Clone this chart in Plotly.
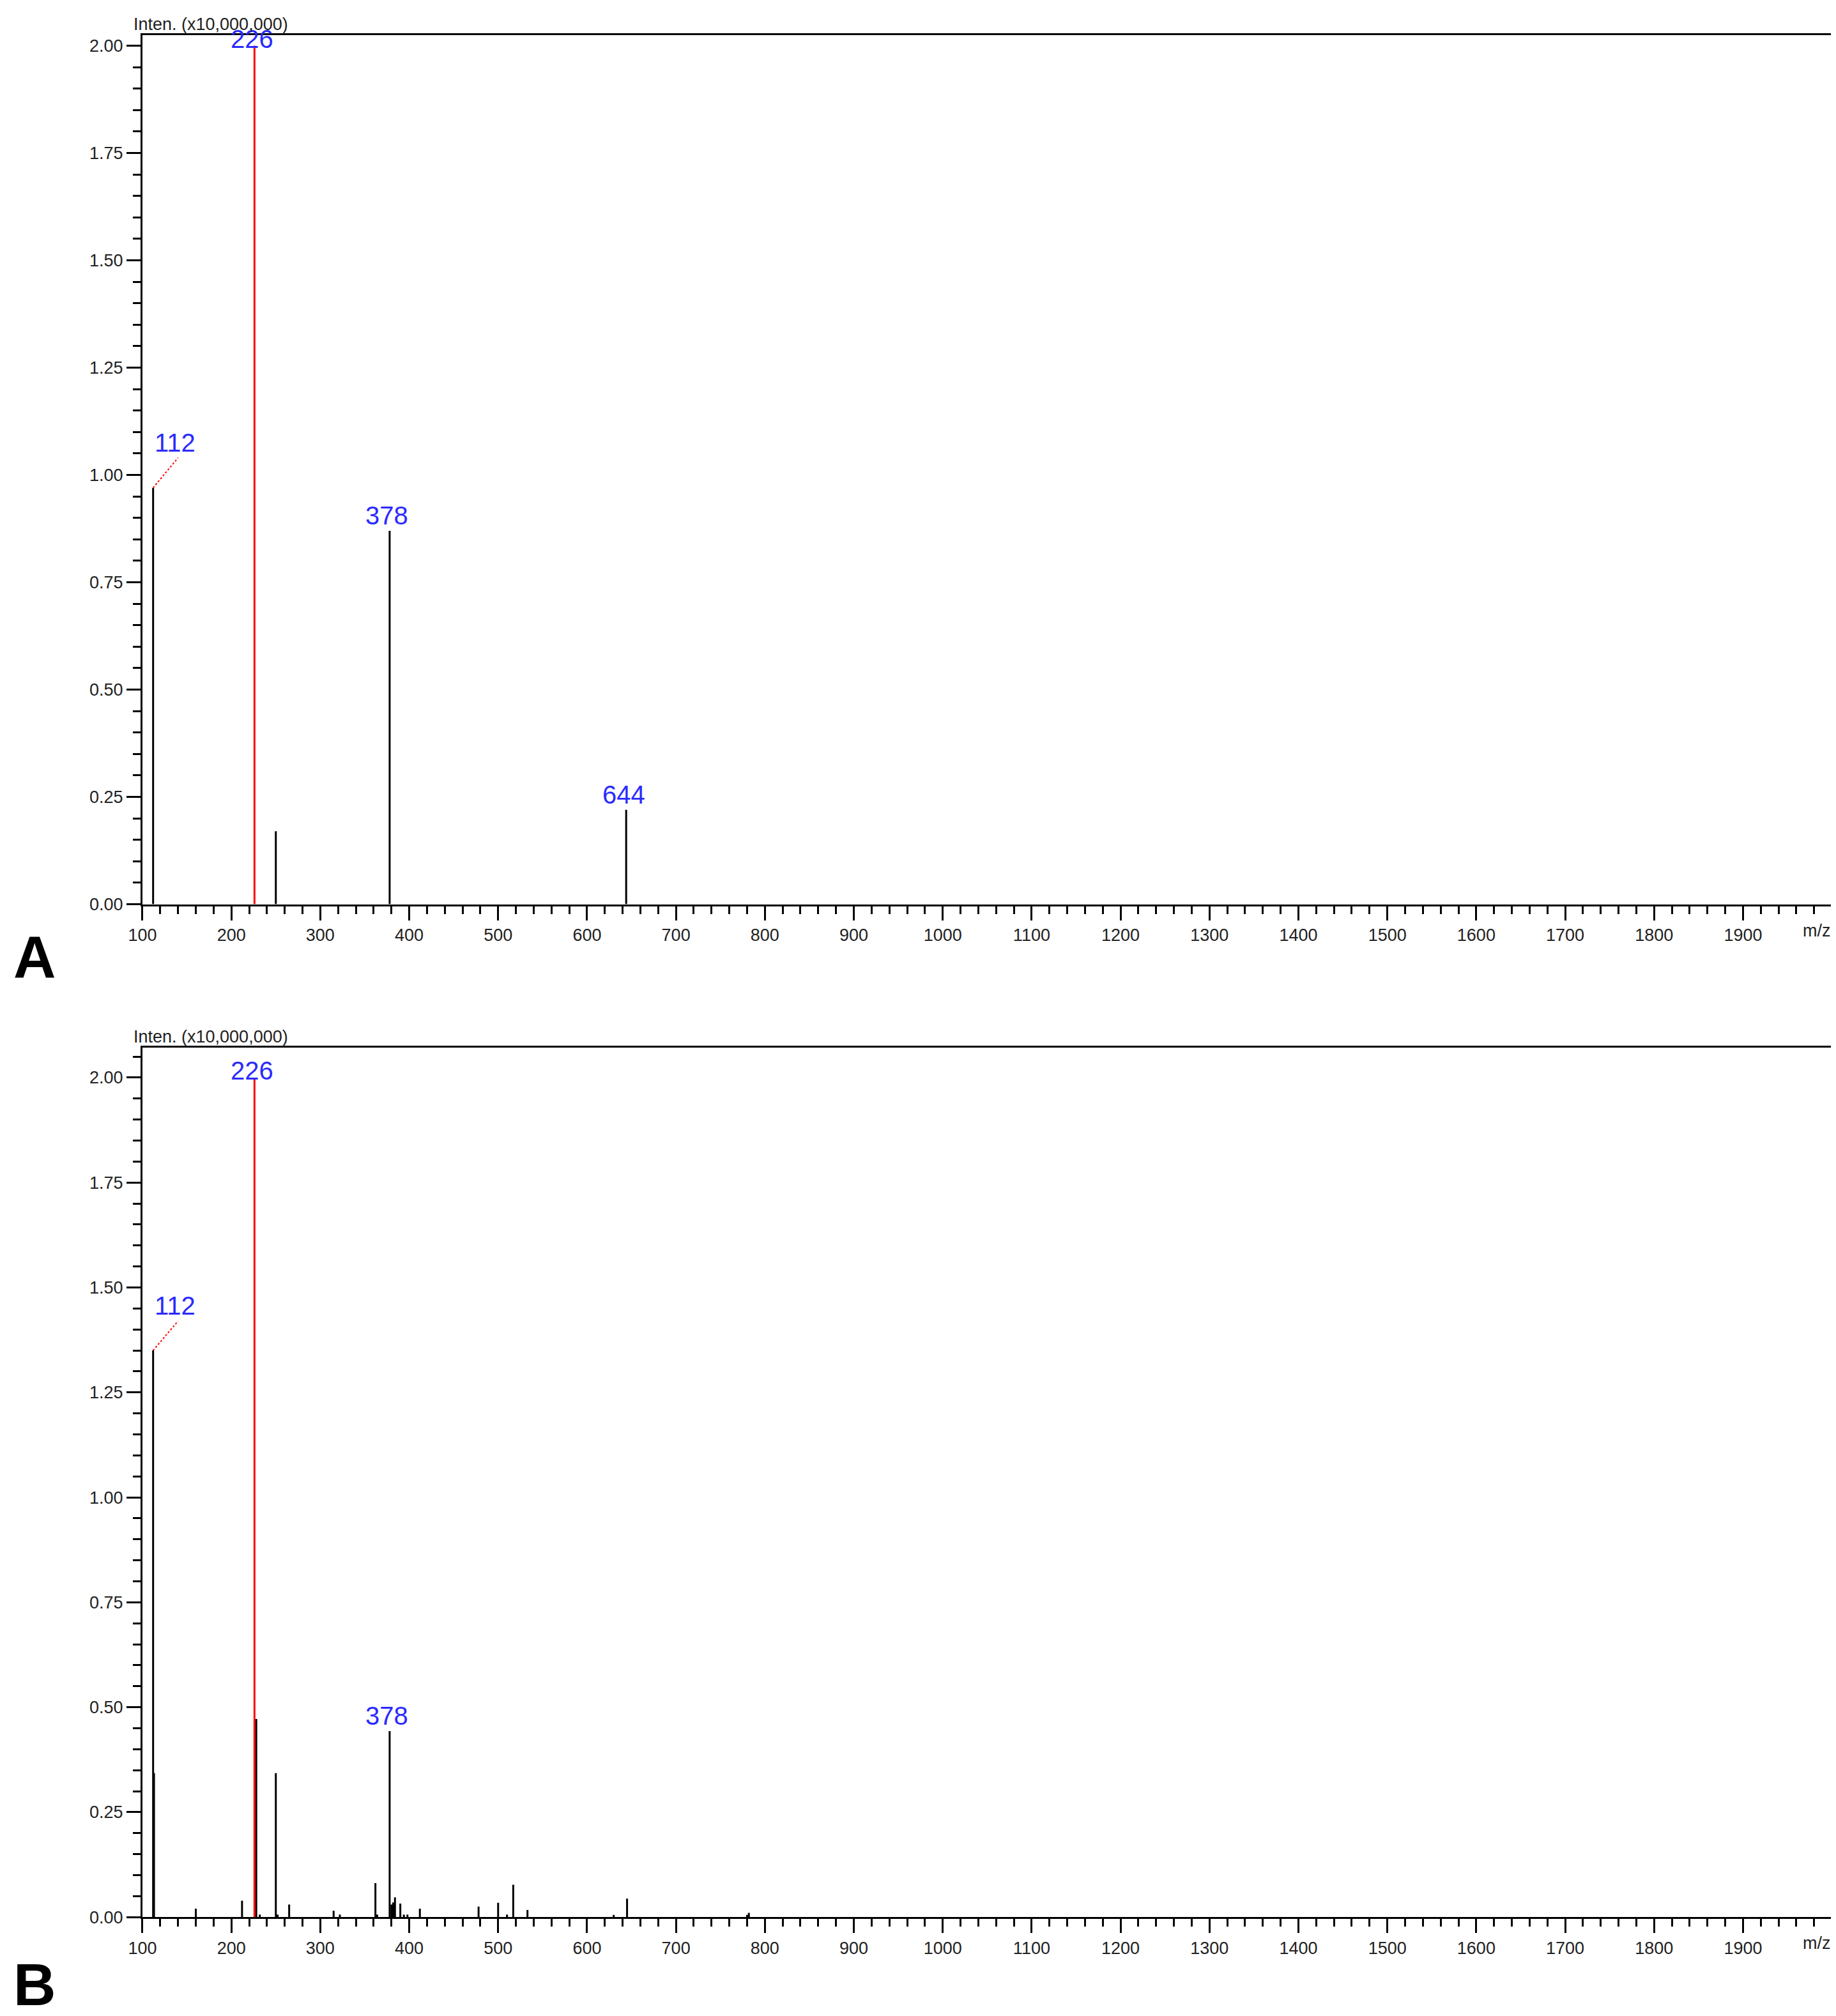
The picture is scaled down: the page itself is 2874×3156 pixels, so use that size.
import plotly.graph_objects as go

# peak lists (intensity in units of 10,000,000)
mz_a = [112, 250, 378, 644]
int_a = [0.97, 0.17, 0.87, 0.22]
base_mz = 226
base_int = 2.0

mz_b = [112, 113, 160, 212, 228, 232, 250, 252, 265, 315, 322, 362, 364, 378, 380, 382, 384,
        390, 394, 398, 412, 478, 500, 510, 517, 533, 630, 645, 780, 782]
int_b = [1.35, 0.343, 0.02, 0.039, 0.472, 0.006, 0.343, 0.006, 0.03, 0.015, 0.006, 0.081, 0.006,
         0.443, 0.03, 0.035, 0.047, 0.032, 0.006, 0.006, 0.02, 0.025, 0.034, 0.006, 0.077, 0.017,
         0.005, 0.044, 0.005, 0.01]

labels_a = [(112, 0.97, "112"), (226, 2.0, "226"), (378, 0.87, "378"), (644, 0.22, "644")]
labels_b = [(112, 1.35, "112"), (226, 2.0, "226"), (378, 0.443, "378")]

xticks = list(range(100, 2000, 100))
yticks = [0, 0.25, 0.5, 0.75, 1.0, 1.25, 1.5, 1.75, 2.0]
FONT = "Liberation Sans Narrow, Arial Narrow, Liberation Sans"


def sticks(mz, inten):
    xs, ys = [], []
    for m, i in zip(mz, inten):
        xs += [m, m, None]
        ys += [0, i, None]
    return xs, ys


fig = go.Figure()
for mz, inten, xa, ya in [(mz_a, int_a, "x", "y"), (mz_b, int_b, "x2", "y2")]:
    xs, ys = sticks(mz, inten)
    fig.add_trace(go.Scatter(x=xs, y=ys, mode="lines", line=dict(color="black", width=3),
                             xaxis=xa, yaxis=ya, showlegend=False, hoverinfo="skip"))
    xs, ys = sticks([base_mz], [base_int])
    fig.add_trace(go.Scatter(x=xs, y=ys, mode="lines", line=dict(color="red", width=3),
                             xaxis=xa, yaxis=ya, showlegend=False, hoverinfo="skip"))

axis_common = dict(showline=True, mirror=True, linecolor="black", linewidth=3, showgrid=False,
                   zeroline=False, ticks="outside", ticklen=22, tickwidth=3, tickcolor="black",
                   automargin=False, tickfont=dict(family=FONT, size=27, color="#222"))
xcommon = dict(axis_common, range=[100, 2000], tickvals=xticks,
               minor=dict(dtick=20, ticklen=12, tickwidth=3, tickcolor="black", ticks="outside"))
ycommon = dict(axis_common, tickvals=yticks, tickformat=".2f",
               minor=dict(dtick=0.05, ticklen=12, tickwidth=3, tickcolor="black", ticks="outside"))

fig.update_layout(
    width=2874, height=3156, margin=dict(l=0, r=0, t=0, b=0),
    plot_bgcolor="white", paper_bgcolor="white",
    xaxis=dict(xcommon, domain=[0.0748, 0.995], anchor="y"),
    yaxis=dict(ycommon, domain=[0.554, 0.985], range=[0, 2.024], anchor="x"),
    xaxis2=dict(xcommon, domain=[0.0748, 0.995], anchor="y2"),
    yaxis2=dict(ycommon, domain=[0.0516, 0.483], range=[0, 2.072], anchor="x2"),
)

ann = []
for labels, xr, yr in [(labels_a, "x", "y"), (labels_b, "x2", "y2")]:
    for m, i, t in labels:
        if t == "112":
            # leader line from the peak top to the shifted label
            fig.add_trace(go.Scatter(x=[m, m + 28], y=[i, i + 0.07], mode="lines",
                                     line=dict(color="red", width=2, dash="dot"),
                                     xaxis=xr, yaxis=yr, showlegend=False, hoverinfo="skip"))
            ann.append(dict(x=m + 25, y=i + 0.07, xref=xr, yref=yr, text=t, showarrow=False,
                            yanchor="bottom", font=dict(family=FONT, size=40, color="#2a2aff")))
        else:
            ann.append(dict(x=m - 3, y=i - 0.02 if t == "226" else i, xref=xr, yref=yr, text=t,
                            showarrow=False, yanchor="bottom",
                            font=dict(family=FONT, size=40, color="#2a2aff")))
    ann.append(dict(x=2000, y=0, xref=xr, yref=yr, text="m/z", showarrow=False, xanchor="right",
                    yanchor="top", yshift=-24, font=dict(family=FONT, size=27, color="#222")))
    ann.append(dict(x=100, y=1, xref=xr, yref=yr + " domain", text="Inten. (x10,000,000)",
                    showarrow=False, xanchor="left", yanchor="bottom", xshift=-16,
                    font=dict(family=FONT, size=27, color="#222")))

ann.append(dict(x=0.004, y=0.528, xref="paper", yref="paper", text="<b>A</b>", showarrow=False,
                xanchor="left", yanchor="middle", font=dict(family="Liberation Sans", size=92, color="black")))
ann.append(dict(x=0.004, y=0.018, xref="paper", yref="paper", text="<b>B</b>", showarrow=False,
                xanchor="left", yanchor="middle", font=dict(family="Liberation Sans", size=92, color="black")))
fig.update_layout(annotations=ann)

fig.write_html("out.html")
